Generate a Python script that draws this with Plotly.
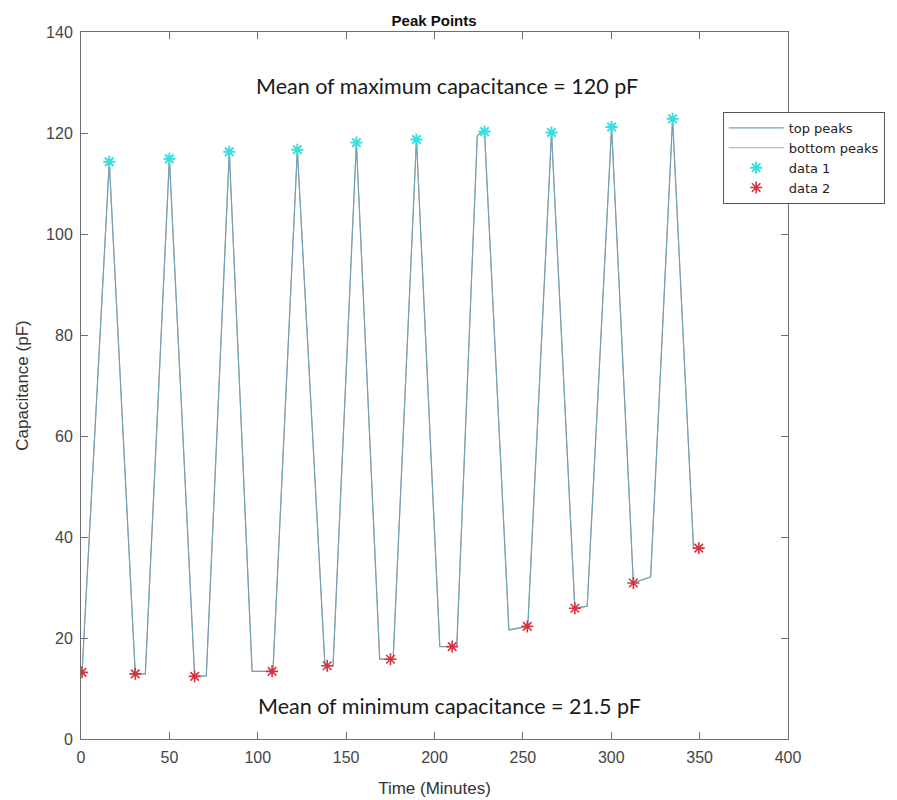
import plotly.graph_objects as go

# Signal (line) vertices
time_min = [0.6, 16.0, 30.7, 36.4, 50.0, 64.3, 70.9, 83.9, 96.8, 108.6, 122.4,
            138.0, 142.6, 155.8, 169.0, 176.6, 189.8, 203.0, 212.6, 224.2, 226.4,
            228.3, 242.1, 252.8, 266.2, 279.4, 286.4, 300.2, 312.5, 322.3, 334.7, 346.5]
capacitance = [13.2, 114.3, 12.9, 12.9, 114.9, 12.4, 12.5, 116.3, 13.4, 13.4, 116.7,
               14.6, 14.5, 118.1, 15.8, 15.8, 118.7, 18.3, 18.3, 119.4, 120.2,
               120.3, 21.6, 22.3, 120.1, 25.9, 26.3, 121.2, 30.9, 32.1, 122.8, 38.0]

# Peak markers
top_x = [16.0, 50.0, 83.9, 122.4, 155.8, 189.8, 228.3, 266.2, 300.2, 334.7]
top_y = [114.3, 114.9, 116.3, 116.7, 118.1, 118.7, 120.3, 120.1, 121.2, 122.8]
bottom_x = [0.6, 30.7, 64.3, 108.1, 139.3, 175.1, 210.0, 252.5, 279.4, 312.5, 349.5]
bottom_y = [13.2, 12.9, 12.4, 13.4, 14.5, 15.8, 18.3, 22.3, 25.9, 30.9, 37.8]

x_ticks = [0, 50, 100, 150, 200, 250, 300, 350, 400]
y_ticks = [0, 20, 40, 60, 80, 100, 120, 140]

max_text = "Mean of maximum capacitance = 120 pF"
min_text = "Mean of minimum capacitance = 21.5 pF"

fig = go.Figure()
fig.add_trace(go.Scatter(x=time_min, y=capacitance, mode="lines", name="bottom peaks",
                         line=dict(color="#c9a27a", width=1), legendrank=2))
fig.add_trace(go.Scatter(x=time_min, y=capacitance, mode="lines", name="top peaks",
                         line=dict(color="#6fa3ba", width=1.2), legendrank=1))
fig.add_trace(go.Scatter(x=top_x, y=top_y, mode="markers", name="data 1",
                         marker=dict(symbol="asterisk-open", size=10, color="#3adde0",
                                     line=dict(color="#3adde0", width=2)), legendrank=3))
fig.add_trace(go.Scatter(x=bottom_x, y=bottom_y, mode="markers", name="data 2",
                         marker=dict(symbol="asterisk-open", size=10, color="#d8323e",
                                     line=dict(color="#d8323e", width=1.6)), legendrank=4))

fig.add_annotation(x=207.0, y=129.4, text=max_text, showarrow=False,
                   font=dict(family="Lato", size=21.5, color="#1a1a1a"))
fig.add_annotation(x=208.5, y=6.6, text=min_text, showarrow=False,
                   font=dict(family="Lato", size=21.5, color="#1a1a1a"))

axis_common = dict(showgrid=False, zeroline=False, showline=True, linecolor="#6e6e6e",
                   linewidth=1, mirror="ticks", ticks="inside", ticklen=7,
                   tickcolor="#6e6e6e", ticklabelstandoff=4,
                   tickfont=dict(family="Liberation Sans", size=16, color="#454545"))

fig.update_xaxes(range=[0, 400], tickvals=x_ticks, ticktext=[str(v) for v in x_ticks],
                 title=dict(text="Time (Minutes)", font=dict(family="Liberation Sans", size=17, color="#333"),
                            standoff=16), **axis_common)
fig.update_yaxes(range=[0, 140], tickvals=y_ticks, ticktext=[str(v) for v in y_ticks],
                 title=dict(text="Capacitance (pF)", font=dict(family="Liberation Sans", size=17, color="#333"),
                            standoff=13), **axis_common)

fig.update_layout(
    width=897, height=800,
    margin=dict(l=73, r=117, t=24, b=69),
    plot_bgcolor="white", paper_bgcolor="white",
    title=dict(text="<b>Peak Points</b>", x=0.475, xanchor="center", y=0.984, yanchor="middle",
               font=dict(family="Liberation Sans", size=15, color="#111")),
    legend=dict(x=0.9076, y=0.887, xanchor="left", yanchor="top", bgcolor="white",
                bordercolor="#555", borderwidth=1, itemwidth=55, tracegroupgap=0,
                font=dict(family="DejaVu Sans", size=13, color="#222")),
    showlegend=True,
)

fig.write_html("out.html")
